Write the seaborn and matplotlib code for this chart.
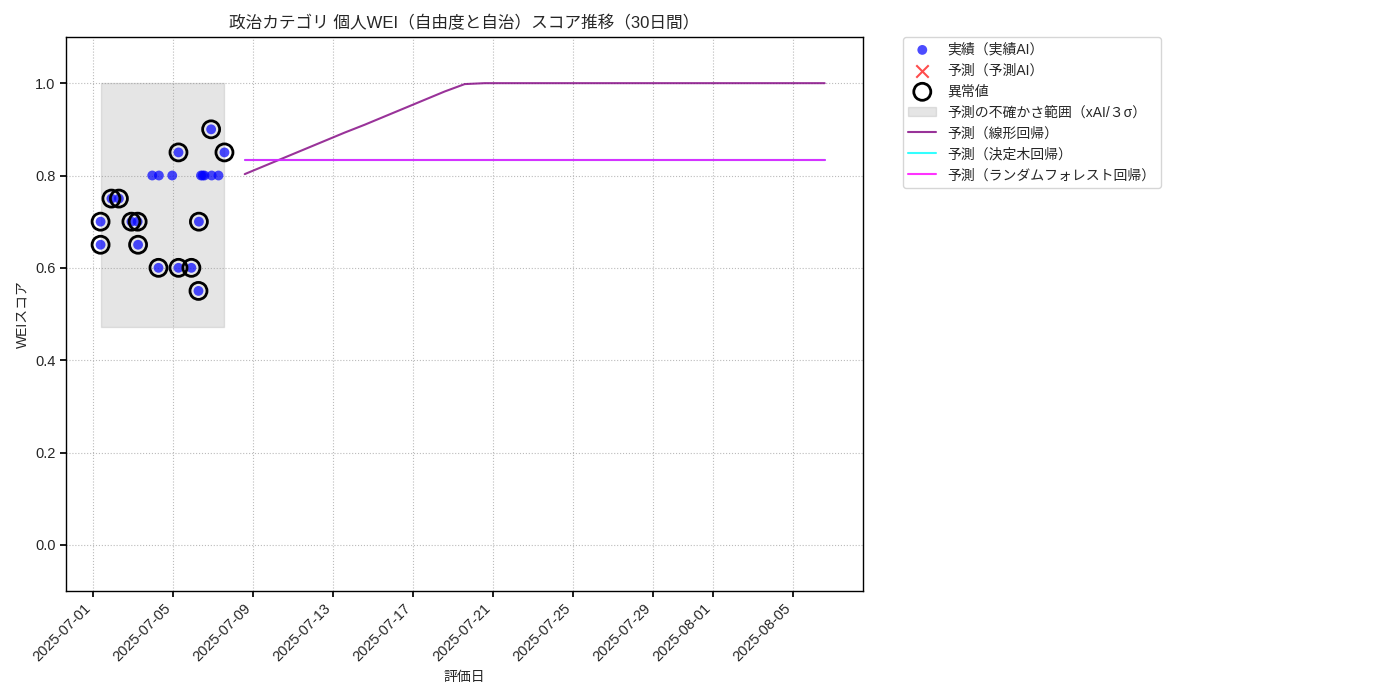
import matplotlib
matplotlib.use("Agg")
import matplotlib.pyplot as plt
import matplotlib.dates as mdates
import seaborn as sns
import pandas as pd

# actual evaluations
actual_dates = [
    "2025-07-01 09:00", "2025-07-01 09:00", "2025-07-01 22:00", "2025-07-02 07:00",
    "2025-07-02 22:00", "2025-07-03 05:30", "2025-07-03 06:00", "2025-07-03 23:00",
    "2025-07-04 06:30", "2025-07-04 07:00", "2025-07-04 23:00", "2025-07-05 06:30",
    "2025-07-05 06:30", "2025-07-05 22:00", "2025-07-06 06:30", "2025-07-06 07:00",
    "2025-07-06 09:30", "2025-07-06 11:30", "2025-07-06 13:40", "2025-07-06 21:40",
    "2025-07-06 22:20", "2025-07-07 06:30", "2025-07-07 13:40",
]
actual_scores = [
    0.70, 0.65, 0.75, 0.75, 0.70, 0.70, 0.65, 0.80, 0.60, 0.80, 0.80, 0.85,
    0.60, 0.60, 0.55, 0.70, 0.80, 0.80, 0.80, 0.90, 0.80, 0.80, 0.85,
]
is_outlier = [
    True, True, True, True, True, True, True, False, True, False, False, True,
    True, True, True, True, False, False, False, True, False, False, True,
]

# uncertainty band (xAI / 3 sigma)
band_lower = 0.471
band_upper = 1.0

# 30-day forecasts
forecast_start = "2025-07-08 14:00"
linear_pred = [
    0.803, 0.821, 0.839, 0.857, 0.875, 0.893, 0.910, 0.928, 0.946, 0.964,
    0.982, 0.998, 1.0, 1.0, 1.0, 1.0, 1.0, 1.0, 1.0, 1.0,
    1.0, 1.0, 1.0, 1.0, 1.0, 1.0, 1.0, 1.0, 1.0, 1.0,
]
tree_pred = [0.833] * 30
forest_pred = [0.833] * 30

sns.set_theme(style="white")
plt.rcParams["font.family"] = ["Liberation Sans", "Noto Sans CJK JP", "DejaVu Sans"]

df = pd.DataFrame({"date": pd.to_datetime(actual_dates), "score": actual_scores,
                   "outlier": is_outlier})
fc = pd.DataFrame({"date": pd.date_range(forecast_start, periods=30, freq="D"),
                   "linear": linear_pred, "tree": tree_pred, "forest": forest_pred})

fig = plt.figure(figsize=(14, 7), dpi=100)
ax = fig.add_axes([66 / 1400, 1 - 591 / 700, 797 / 1400, 554 / 700])

sns.scatterplot(data=df, x="date", y="score", ax=ax, color="blue", alpha=0.7,
                s=50, edgecolor="none", label="実績（実績AI）", zorder=3)
ax.scatter([], [], marker="x", color="red", s=80, alpha=0.7, label="予測（予測AI）")
out = df[df["outlier"]]
ax.scatter(out["date"], out["score"], s=150, facecolors="none", edgecolors="black",
           linewidths=2, label="異常値", zorder=4)
ax.fill_between([df["date"].min(), df["date"].max()], band_lower, band_upper,
                color="gray", alpha=0.2, label="予測の不確かさ範囲（xAI/３σ）", zorder=1)
sns.lineplot(data=fc, x="date", y="linear", ax=ax, color="purple", alpha=0.8,
             label="予測（線形回帰）")
sns.lineplot(data=fc, x="date", y="tree", ax=ax, color="cyan", alpha=0.8,
             label="予測（決定木回帰）")
sns.lineplot(data=fc, x="date", y="forest", ax=ax, color="magenta", alpha=0.8,
             label="予測（ランダムフォレスト回帰）")

ax.set_xlim(pd.Timestamp("2025-06-29 15:30"), pd.Timestamp("2025-08-08 12:00"))
ax.set_ylim(-0.1, 1.1)
ax.xaxis.set_major_locator(mdates.DayLocator(bymonthday=range(1, 32, 4)))
ax.xaxis.set_major_formatter(mdates.DateFormatter("%Y-%m-%d"))
plt.setp(ax.get_xticklabels(), rotation=45, ha="right")
ax.tick_params(axis="both", labelsize=10.5, length=4, color="black", bottom=True, left=True)
ax.grid(True, linestyle=":", color="#bbbbbb", linewidth=0.8)
for sp in ax.spines.values():
    sp.set_color("black")
    sp.set_linewidth(1.0)

ax.set_title("政治カテゴリ 個人WEI（自由度と自治）スコア推移（30日間）", fontsize=12)
ax.set_xlabel("評価日", fontsize=10)
ax.set_ylabel("WEIスコア", fontsize=10)
ax.legend(loc="upper left", bbox_to_anchor=(1.05, 1.0), borderaxespad=0.0, fontsize=10,
          frameon=True)

fig.savefig("out.png", dpi=100)
